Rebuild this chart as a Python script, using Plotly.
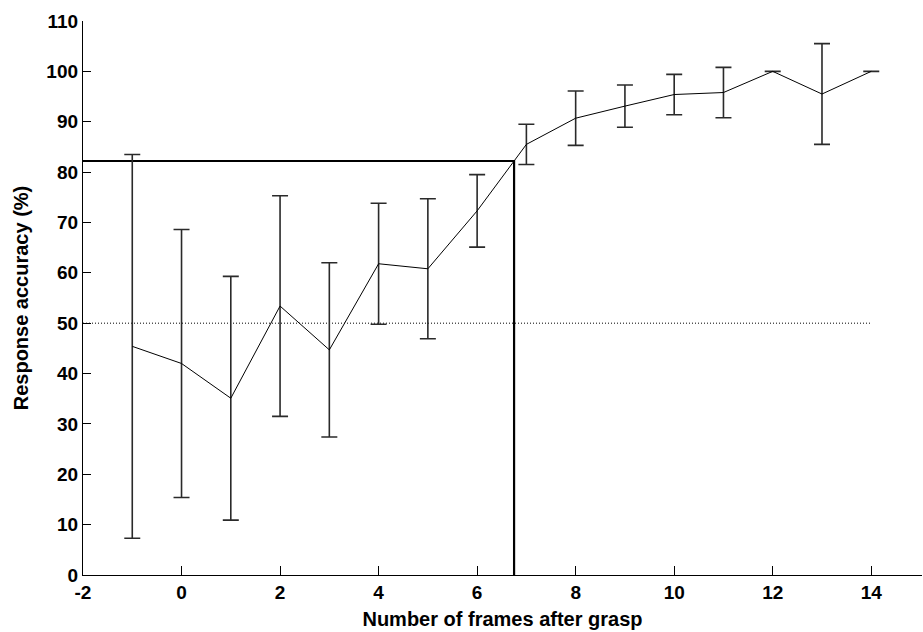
import plotly.graph_objects as go

frames = [-1, 0, 1, 2, 3, 4, 5, 6, 7, 8, 9, 10, 11, 12, 13, 14]
accuracy = [45.4, 42.0, 35.1, 53.4, 44.7, 61.8, 60.8, 72.3, 85.5, 90.7, 93.1, 95.4, 95.8, 100.0, 95.5, 100.0]
error = [38.1, 26.6, 24.2, 21.9, 17.3, 12.0, 13.9, 7.2, 4.0, 5.4, 4.2, 4.0, 5.0, 0.0, 10.0, 0.0]

chance_level = 50
threshold_frame = 6.75
threshold_accuracy = 82.2

x_ticks = [-2, 0, 2, 4, 6, 8, 10, 12, 14]
y_ticks = [0, 10, 20, 30, 40, 50, 60, 70, 80, 90, 100, 110]

FONT = "Liberation Sans, Arial, Helvetica, sans-serif"

fig = go.Figure()

# chance line (dotted)
fig.add_trace(go.Scatter(
    x=[-2, 14], y=[chance_level, chance_level], mode="lines",
    line=dict(color="black", width=1, dash="1px,2px"),
    hoverinfo="skip", showlegend=False,
))

# threshold lines
fig.add_trace(go.Scatter(
    x=[-2, threshold_frame, threshold_frame], y=[threshold_accuracy, threshold_accuracy, 0],
    mode="lines", line=dict(color="black", width=2.2),
    hoverinfo="skip", showlegend=False,
))

# data with error bars
fig.add_trace(go.Scatter(
    x=frames, y=accuracy, mode="lines",
    line=dict(color="black", width=1),
    error_y=dict(type="data", array=error, visible=True, color="#2a2a2a", thickness=1.6, width=8),
    showlegend=False,
))

fig.update_layout(
    width=923, height=632,
    margin=dict(l=83, r=1, t=21, b=57),
    paper_bgcolor="white", plot_bgcolor="white",
    font=dict(family=FONT, color="black", size=19, weight="bold"),
    showlegend=False,
)

fig.update_xaxes(
    range=[-2, 15.03], tickvals=x_ticks, ticktext=[str(v) for v in x_ticks],
    ticks="inside", ticklen=9, tickwidth=1, tickcolor="black",
    showline=True, linecolor="black", linewidth=1.3,
    showgrid=False, zeroline=False,
    tickfont=dict(family=FONT, size=19, weight="bold", color="black"),
    title=dict(text="Number of frames after grasp", standoff=10,
               font=dict(family=FONT, size=20, weight="bold", color="black")),
)
fig.update_yaxes(
    range=[0, 110], tickvals=y_ticks, ticktext=[str(v) for v in y_ticks],
    ticks="inside", ticklen=8, tickwidth=1, tickcolor="black",
    showline=True, linecolor="black", linewidth=1.3,
    showgrid=False, zeroline=False,
    tickfont=dict(family=FONT, size=19, weight="bold", color="black"),
    title=dict(text="Response accuracy (%)", standoff=12,
               font=dict(family=FONT, size=20, weight="bold", color="black")),
)

fig.write_html("out.html")
